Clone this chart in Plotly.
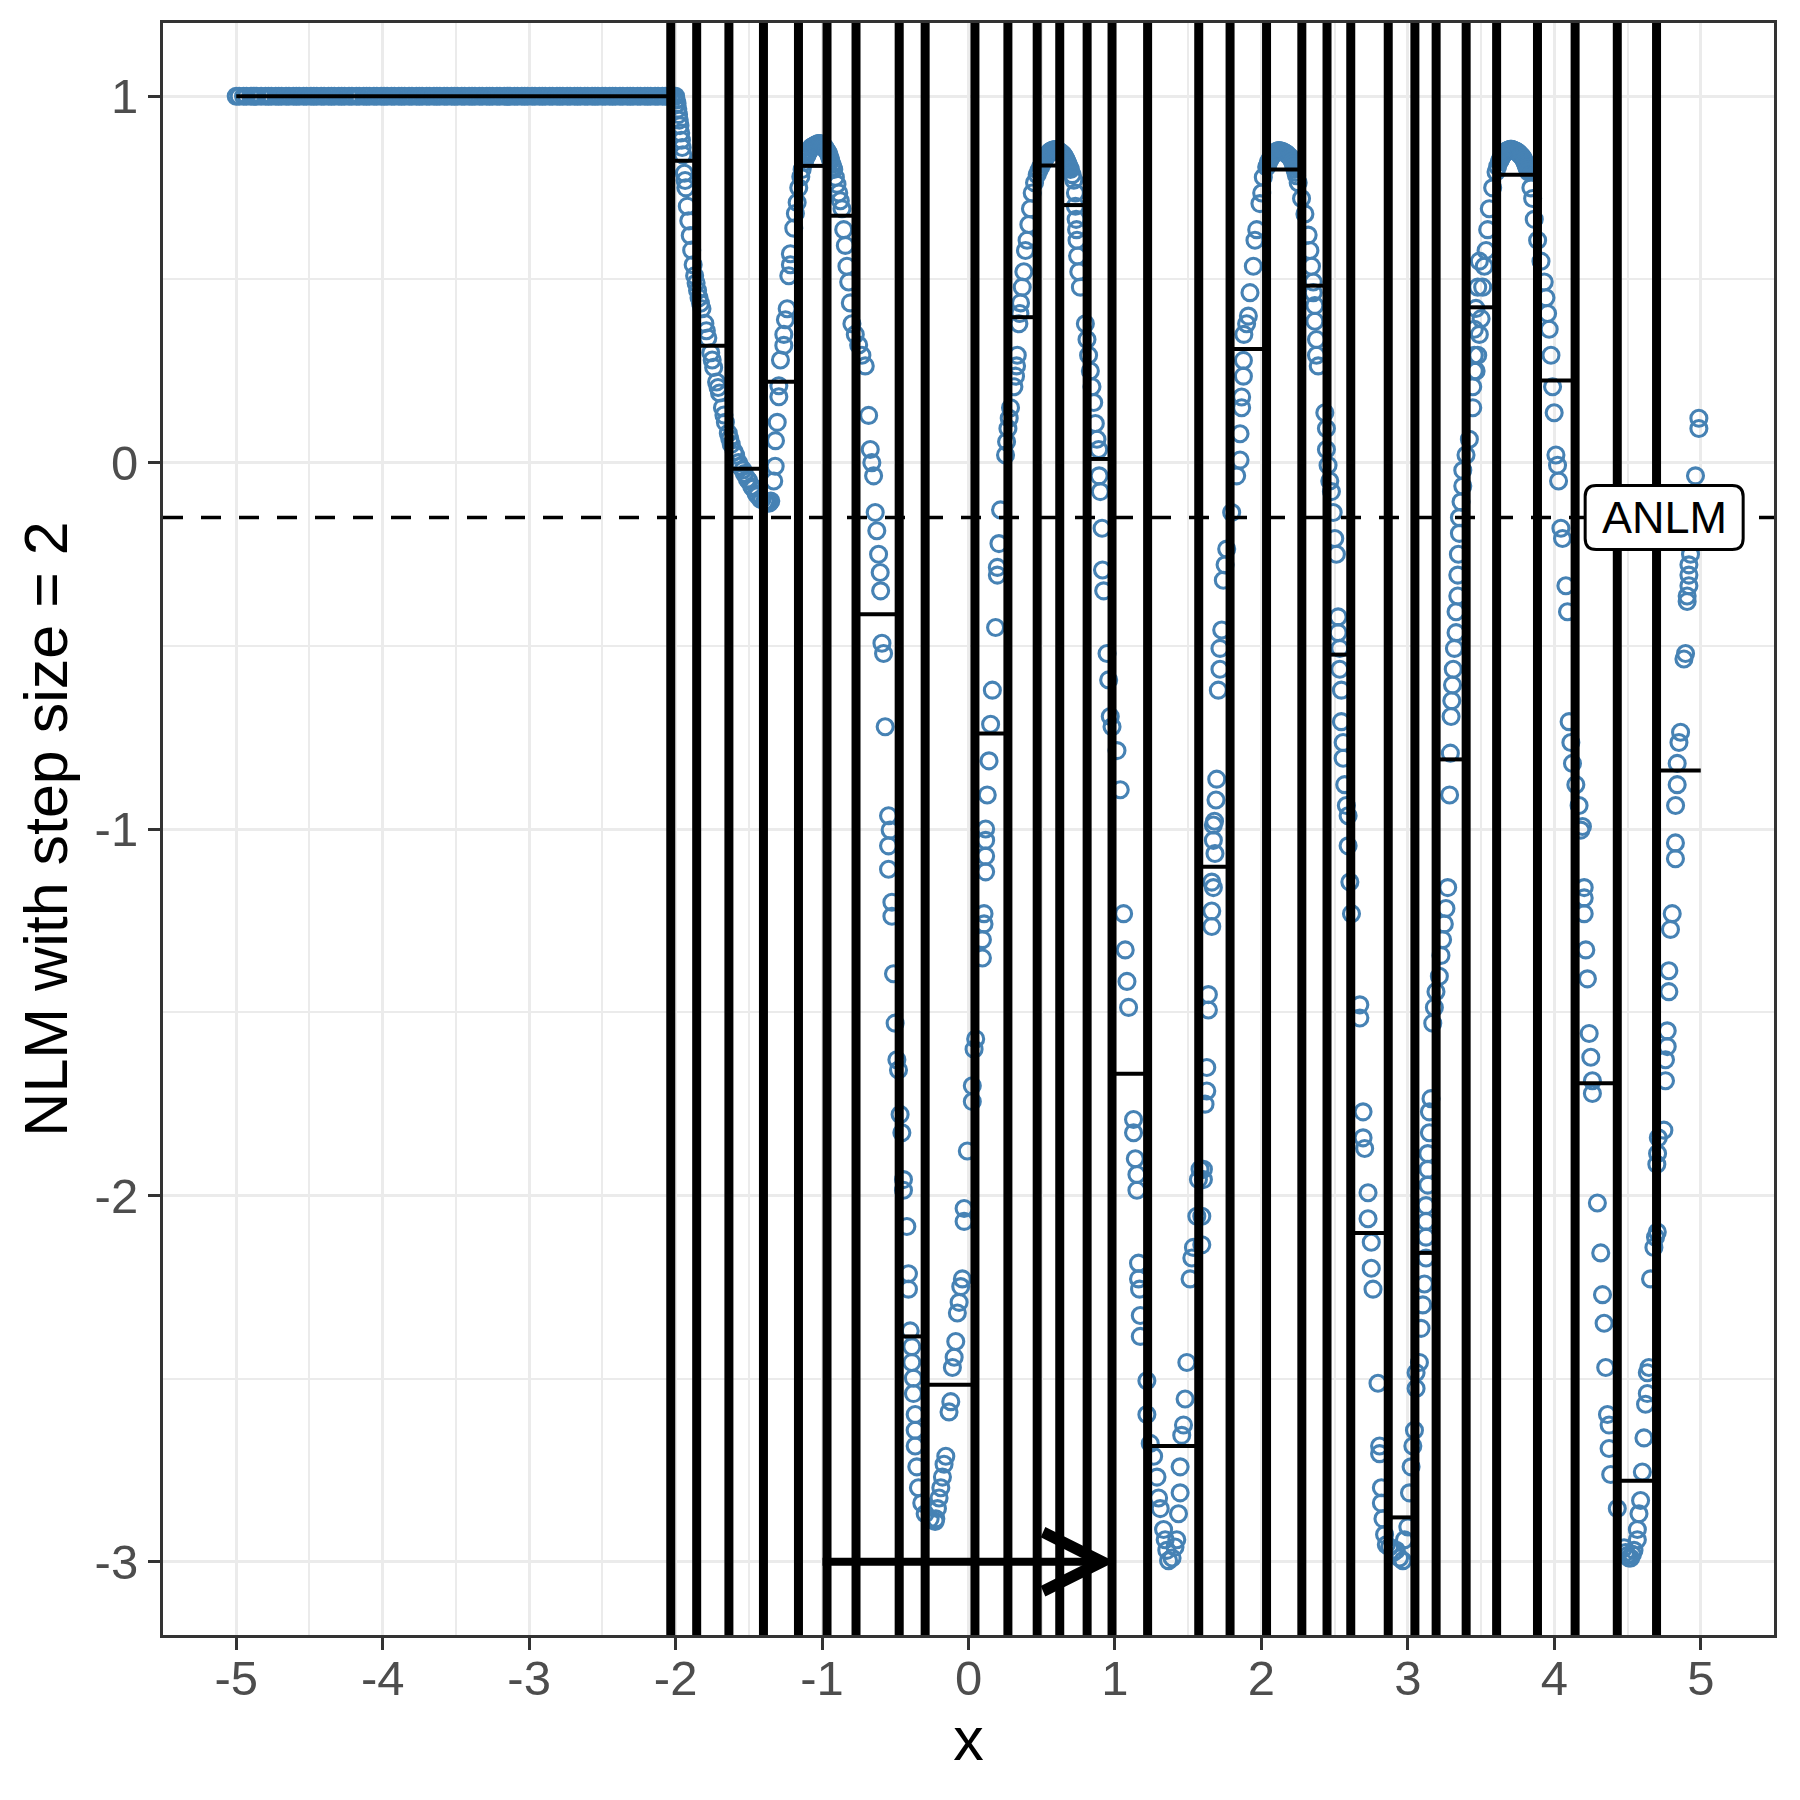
import plotly.graph_objects as go

# flat part of the curve (y = 1 for every sample left of the first break)
flat_x = [-5.00, -4.98, -4.95, -4.93, -4.90, -4.88, -4.86, -4.83, -4.80, -4.78, -4.76, -4.73,
          -4.71, -4.69, -4.66, -4.64, -4.61, -4.59, -4.57, -4.54, -4.52, -4.49, -4.47, -4.45,
          -4.42, -4.40, -4.37, -4.35, -4.33, -4.30, -4.28, -4.26, -4.23, -4.21, -4.18, -4.16,
          -4.13, -4.11, -4.09, -4.06, -4.04, -4.01, -3.99, -3.97, -3.94, -3.92, -3.89, -3.87,
          -3.85, -3.82, -3.80, -3.77, -3.75, -3.73, -3.70, -3.68, -3.65, -3.63, -3.61, -3.58,
          -3.56, -3.53, -3.51, -3.49, -3.46, -3.44, -3.41, -3.39, -3.37, -3.34, -3.32, -3.29,
          -3.27, -3.25, -3.22, -3.20, -3.17, -3.15, -3.13, -3.10, -3.08, -3.05, -3.03, -3.01,
          -2.98, -2.96, -2.93, -2.91, -2.89, -2.86, -2.84, -2.81, -2.79, -2.77, -2.74, -2.72,
          -2.69, -2.67, -2.65, -2.62, -2.60, -2.57, -2.55, -2.53, -2.50, -2.48, -2.45, -2.43,
          -2.41, -2.38, -2.36, -2.33, -2.31, -2.29, -2.26, -2.24, -2.21, -2.19, -2.17, -2.14,
          -2.12, -2.09, -2.07, -2.05, -2.03, -2.01]
flat_y = [1.0] * len(flat_x)

# oscillating part (x, y)
curve_pts = [
    (-2.00, 1.00), (-1.995, 0.99), (-1.99, 0.98), (-1.985, 0.965), (-1.98, 0.95), (-1.975, 0.935),
    (-1.97, 0.92), (-1.965, 0.90), (-1.96, 0.88), (-1.955, 0.86), (-1.95, 0.84), (-1.94, 0.79),
    (-1.935, 0.77), (-1.93, 0.75), (-1.92, 0.70), (-1.91, 0.66), (-1.90, 0.62), (-1.89, 0.58),
    (-1.88, 0.54), (-1.87, 0.51), (-1.86, 0.49), (-1.85, 0.47), (-1.84, 0.45), (-1.83, 0.435),
    (-1.82, 0.42), (-1.80, 0.38), (-1.79, 0.36), (-1.78, 0.34), (-1.76, 0.30), (-1.75, 0.28),
    (-1.74, 0.26), (-1.72, 0.22), (-1.71, 0.205), (-1.70, 0.19), (-1.68, 0.15), (-1.67, 0.13),
    (-1.66, 0.11), (-1.64, 0.08), (-1.63, 0.065), (-1.62, 0.05), (-1.60, 0.03), (-1.59, 0.02),
    (-1.57, 0.0), (-1.56, -0.01), (-1.54, -0.02), (-1.53, -0.03), (-1.51, -0.045), (-1.50, -0.05),
    (-1.48, -0.065), (-1.47, -0.07), (-1.45, -0.085), (-1.44, -0.09), (-1.42, -0.10), (-1.41, -0.10),
    (-1.39, -0.105), (-1.38, -0.11), (-1.37, -0.11), (-1.36, -0.11), (-1.35, -0.105),
    (-1.33, -0.05), (-1.32, -0.01), (-1.318, 0.06), (-1.306, 0.11), (-1.295, 0.18), (-1.295, 0.21),
    (-1.284, 0.28), (-1.261, 0.32), (-1.261, 0.35), (-1.25, 0.39), (-1.238, 0.42), (-1.227, 0.51),
    (-1.216, 0.54), (-1.216, 0.57), (-1.193, 0.64), (-1.182, 0.68), (-1.17, 0.71), (-1.159, 0.75),
    (-1.145, 0.78), (-1.136, 0.80), (-1.12, 0.82), (-1.115, 0.83), (-1.108, 0.835), (-1.102, 0.84),
    (-1.095, 0.847), (-1.09, 0.85), (-1.085, 0.853), (-1.075, 0.86), (-1.068, 0.862), (-1.057, 0.864),
    (-1.05, 0.866), (-1.045, 0.867), (-1.04, 0.868), (-1.03, 0.87), (-1.023, 0.871), (-1.018, 0.871),
    (-1.01, 0.87), (-1.003, 0.869), (-0.995, 0.866), (-0.989, 0.864), (-0.98, 0.86), (-0.975, 0.855),
    (-0.97, 0.853), (-0.965, 0.85), (-0.96, 0.846), (-0.955, 0.843), (-0.95, 0.837), (-0.945, 0.83),
    (-0.94, 0.824), (-0.932, 0.814), (-0.926, 0.807), (-0.92, 0.80),
    (-0.909, 0.779), (-0.898, 0.76), (-0.886, 0.736), (-0.875, 0.715), (-0.864, 0.693), (-0.852, 0.636),
    (-0.841, 0.593), (-0.83, 0.536), (-0.818, 0.493), (-0.807, 0.436), (-0.796, 0.379), (-0.773, 0.35),
    (-0.75, 0.321), (-0.728, 0.293), (-0.705, 0.264), (-0.682, 0.129), (-0.671, 0.036), (-0.66, 0.0),
    (-0.648, -0.036), (-0.637, -0.136), (-0.626, -0.186), (-0.614, -0.25), (-0.603, -0.30), (-0.60, -0.35),
    (-0.591, -0.493), (-0.58, -0.521), (-0.569, -0.721), (-0.546, -0.964),
    (-0.535, -1.003), (-0.546, -1.046), (-0.546, -1.11), (-0.523, -1.20), (-0.523, -1.238), (-0.512, -1.395),
    (-0.501, -1.53), (-0.489, -1.63), (-0.478, -1.658), (-0.467, -1.779), (-0.455, -1.829), (-0.444, -1.957),
    (-0.444, -1.986), (-0.421, -2.085), (-0.41, -2.214), (-0.41, -2.256), (-0.398, -2.37), (-0.387, -2.413),
    (-0.387, -2.456), (-0.376, -2.499), (-0.376, -2.541), (-0.364, -2.598), (-0.364, -2.641), (-0.364, -2.684),
    (-0.353, -2.741), (-0.342, -2.798), (-0.319, -2.84), (-0.296, -2.869), (-0.262, -2.883), (-0.228, -2.89),
    (-0.223, -2.883), (-0.212, -2.855), (-0.201, -2.826), (-0.189, -2.798), (-0.178, -2.769), (-0.167, -2.734),
    (-0.155, -2.712), (-0.133, -2.591), (-0.121, -2.563), (-0.11, -2.47), (-0.098, -2.442), (-0.087, -2.399),
    (-0.076, -2.321), (-0.064, -2.292), (-0.053, -2.249), (-0.042, -2.228), (-0.03, -2.071), (-0.03, -2.036),
    (-0.008, -1.879), (0.026, -1.744), (0.026, -1.701), (0.038, -1.601), (0.049, -1.573), (0.095, -1.352),
    (0.095, -1.302), (0.106, -1.259), (0.106, -1.231), (0.117, -1.117), (0.117, -1.074), (0.117, -1.031),
    (0.117, -1.0), (0.128, -0.907), (0.14, -0.814), (0.151, -0.714), (0.163, -0.621), (0.185, -0.45),
    (0.197, -0.307), (0.197, -0.286), (0.208, -0.221), (0.219, -0.129), (0.253, 0.021), (0.26, 0.057),
    (0.269, 0.093), (0.278, 0.121), (0.287, 0.15), (0.31, 0.207), (0.321, 0.236), (0.328, 0.264),
    (0.333, 0.293), (0.344, 0.379), (0.351, 0.407), (0.355, 0.436), (0.367, 0.479), (0.378, 0.521),
    (0.389, 0.579), (0.40, 0.607), (0.412, 0.65), (0.423, 0.693), (0.435, 0.736), (0.451, 0.764),
    (0.469, 0.786), (0.48, 0.797), (0.492, 0.807), (0.503, 0.816), (0.509, 0.82), (0.514, 0.824),
    (0.52, 0.828), (0.525, 0.832), (0.531, 0.836), (0.537, 0.839), (0.543, 0.842), (0.548, 0.845),
    (0.554, 0.848), (0.56, 0.85), (0.565, 0.851), (0.571, 0.852), (0.577, 0.853), (0.582, 0.854),
    (0.588, 0.854), (0.594, 0.854), (0.60, 0.854), (0.605, 0.853), (0.61, 0.852), (0.616, 0.85),
    (0.622, 0.849), (0.628, 0.847), (0.634, 0.845), (0.64, 0.843), (0.645, 0.841), (0.65, 0.839),
    (0.656, 0.835), (0.662, 0.83), (0.668, 0.826), (0.673, 0.821), (0.679, 0.816), (0.685, 0.81),
    (0.69, 0.805), (0.696, 0.80), (0.708, 0.786), (0.719, 0.771), (0.73, 0.736),
    (0.73, 0.70), (0.735, 0.664), (0.738, 0.636), (0.741, 0.607), (0.745, 0.564), (0.753, 0.521),
    (0.764, 0.479), (0.798, 0.379), (0.809, 0.336), (0.82, 0.293), (0.832, 0.25), (0.843, 0.207),
    (0.855, 0.164), (0.866, 0.107), (0.877, 0.064), (0.889, 0.036), (0.892, -0.036), (0.90, -0.079),
    (0.912, -0.179), (0.915, -0.293), (0.923, -0.35), (0.946, -0.521), (0.957, -0.593), (0.968, -0.693),
    (0.98, -0.721), (1.014, -0.786), (1.036, -0.893),
    (1.059, -1.231), (1.07, -1.33), (1.082, -1.416), (1.093, -1.487), (1.127, -1.793), (1.127, -1.829),
    (1.139, -1.90), (1.15, -1.943), (1.15, -1.986), (1.161, -2.185), (1.161, -2.228), (1.168, -2.256),
    (1.173, -2.328), (1.173, -2.385), (1.218, -2.506), (1.218, -2.598), (1.241, -2.677), (1.264, -2.712),
    (1.287, -2.769), (1.298, -2.826), (1.309, -2.855), (1.332, -2.912), (1.343, -2.94), (1.354, -2.969),
    (1.366, -2.997), (1.39, -2.99), (1.41, -2.96), (1.422, -2.94), (1.434, -2.869), (1.445, -2.812),
    (1.445, -2.741), (1.456, -2.655), (1.468, -2.627), (1.479, -2.556), (1.491, -2.456), (1.513, -2.228),
    (1.525, -2.171), (1.536, -2.142), (1.559, -2.057), (1.57, -1.957), (1.581, -1.929),
    (1.593, -2.135), (1.593, -2.057), (1.604, -1.957), (1.604, -1.929), (1.615, -1.751), (1.627, -1.715),
    (1.627, -1.651), (1.638, -1.494), (1.638, -1.452), (1.661, -1.266), (1.661, -1.224), (1.661, -1.145),
    (1.672, -1.16), (1.672, -1.031), (1.672, -0.989), (1.683, -1.067),
    (1.68, -0.979), (1.69, -0.921), (1.695, -0.864), (1.706, -0.621), (1.717, -0.564), (1.717, -0.507),
    (1.729, -0.457), (1.74, -0.321), (1.752, -0.279), (1.763, -0.236), (1.797, -0.136), (1.831, -0.036),
    (1.854, 0.007), (1.854, 0.079), (1.865, 0.15), (1.865, 0.179), (1.877, 0.236), (1.877, 0.279),
    (1.88, 0.35), (1.899, 0.379), (1.911, 0.40), (1.922, 0.464), (1.945, 0.536), (1.956, 0.607),
    (1.968, 0.636), (1.99, 0.707), (2.002, 0.736), (2.013, 0.779), (2.036, 0.807), (2.045, 0.815),
    (2.05, 0.822), (2.06, 0.829), (2.07, 0.836), (2.078, 0.84), (2.087, 0.844), (2.095, 0.847),
    (2.104, 0.85), (2.112, 0.851), (2.12, 0.852), (2.13, 0.851), (2.138, 0.85), (2.146, 0.849),
    (2.155, 0.847), (2.164, 0.845), (2.172, 0.843), (2.18, 0.84), (2.19, 0.836), (2.198, 0.833),
    (2.206, 0.829), (2.212, 0.822), (2.218, 0.815), (2.224, 0.808), (2.229, 0.80), (2.235, 0.792),
    (2.24, 0.783),
    (2.251, 0.764), (2.274, 0.721), (2.297, 0.679), (2.319, 0.621), (2.331, 0.579), (2.342, 0.536),
    (2.354, 0.493), (2.354, 0.464), (2.365, 0.429), (2.365, 0.386), (2.376, 0.336), (2.376, 0.293),
    (2.388, 0.264), (2.433, 0.136), (2.444, 0.093), (2.444, 0.036), (2.455, -0.007), (2.467, -0.05),
    (2.478, -0.079), (2.49, -0.136), (2.501, -0.207), (2.512, -0.25), (2.524, -0.421), (2.524, -0.464),
    (2.535, -0.507), (2.535, -0.564), (2.546, -0.621), (2.546, -0.707), (2.558, -0.764), (2.558, -0.807),
    (2.569, -0.879), (2.58, -0.936), (2.592, -0.964),
    (2.592, -1.046), (2.604, -1.145), (2.615, -1.231), (2.672, -1.48), (2.672, -1.516), (2.694, -1.772),
    (2.694, -1.843), (2.705, -1.872), (2.728, -1.993), (2.728, -2.064), (2.75, -2.128), (2.75, -2.199),
    (2.762, -2.256), (2.796, -2.513), (2.807, -2.684), (2.807, -2.705), (2.819, -2.798), (2.819, -2.84),
    (2.83, -2.883), (2.841, -2.926), (2.853, -2.954), (2.875, -2.96), (2.9, -2.975), (2.921, -2.969),
    (2.943, -2.99), (2.966, -2.997), (2.977, -2.94), (3.0, -2.905), (3.011, -2.812), (3.022, -2.741),
    (3.034, -2.684), (3.045, -2.641), (3.056, -2.527), (3.056, -2.484), (3.079, -2.456), (3.09, -2.363),
    (3.102, -2.299), (3.113, -2.242), (3.124, -2.171), (3.124, -2.114), (3.124, -2.071), (3.124, -2.028),
    (3.136, -1.972), (3.136, -1.929), (3.136, -1.886), (3.147, -1.829), (3.147, -1.772), (3.158, -1.736),
    (3.17, -1.53), (3.181, -1.487), (3.192, -1.444), (3.215, -1.402), (3.226, -1.345), (3.237, -1.302),
    (3.249, -1.259), (3.26, -1.217), (3.272, -1.16),
    (3.285, -0.907), (3.29, -0.793), (3.295, -0.693), (3.30, -0.65), (3.305, -0.607), (3.31, -0.564),
    (3.318, -0.507), (3.329, -0.464), (3.329, -0.407), (3.341, -0.364), (3.341, -0.307), (3.345, -0.25),
    (3.352, -0.193), (3.352, -0.15), (3.363, -0.107), (3.375, -0.064), (3.375, -0.021), (3.397, 0.021),
    (3.42, 0.064), (3.443, 0.15), (3.443, 0.207), (3.454, 0.25), (3.454, 0.293), (3.454, 0.364),
    (3.466, 0.25), (3.465, 0.421), (3.477, 0.293), (3.477, 0.479), (3.488, 0.35), (3.488, 0.55),
    (3.5, 0.393), (3.511, 0.479), (3.522, 0.536), (3.534, 0.579), (3.545, 0.636), (3.556, 0.693),
    (3.579, 0.75), (3.602, 0.793), (3.613, 0.808), (3.625, 0.821), (3.63, 0.826), (3.636, 0.83),
    (3.642, 0.836), (3.647, 0.839), (3.653, 0.842), (3.658, 0.845), (3.664, 0.848), (3.67, 0.85),
    (3.676, 0.851), (3.681, 0.852), (3.687, 0.853), (3.693, 0.854), (3.698, 0.855), (3.704, 0.855),
    (3.71, 0.855), (3.715, 0.854), (3.721, 0.853), (3.727, 0.852), (3.733, 0.851), (3.738, 0.85),
    (3.744, 0.849), (3.75, 0.847), (3.755, 0.845), (3.761, 0.843), (3.767, 0.84), (3.772, 0.838),
    (3.778, 0.836), (3.784, 0.833), (3.79, 0.829), (3.795, 0.824), (3.80, 0.819), (3.806, 0.814),
    (3.81, 0.809), (3.815, 0.804), (3.82, 0.799), (3.824, 0.793),
    (3.84, 0.75), (3.852, 0.721), (3.863, 0.664),
    (3.886, 0.607), (3.909, 0.55), (3.931, 0.493), (3.943, 0.45), (3.954, 0.407), (3.965, 0.364),
    (3.977, 0.293), (3.988, 0.207), (3.999, 0.136), (4.011, 0.021), (4.022, -0.007), (4.029, -0.05),
    (4.045, -0.179), (4.056, -0.207), (4.079, -0.336), (4.09, -0.407), (4.101, -0.707), (4.113, -0.764),
    (4.124, -0.821), (4.147, -0.879), (4.169, -0.936), (4.181, -1.003), (4.192, -0.993),
    (4.204, -1.16), (4.204, -1.188), (4.204, -1.231), (4.215, -1.33), (4.226, -1.409), (4.238, -1.558),
    (4.249, -1.623), (4.26, -1.687), (4.26, -1.722), (4.294, -2.021), (4.317, -2.157), (4.329, -2.271),
    (4.34, -2.349), (4.351, -2.47), (4.363, -2.598), (4.374, -2.627), (4.374, -2.691), (4.385, -2.762),
    (4.43, -2.855), (4.476, -2.962), (4.487, -2.975), (4.498, -2.983), (4.51, -2.99), (4.521, -2.99),
    (4.533, -2.98), (4.544, -2.969), (4.567, -2.94), (4.567, -2.912), (4.578, -2.869), (4.589, -2.833),
    (4.601, -2.755), (4.612, -2.662), (4.623, -2.57), (4.635, -2.541), (4.635, -2.484), (4.646, -2.47),
    (4.657, -2.228), (4.68, -2.142), (4.691, -2.114), (4.703, -2.10), (4.70, -1.915), (4.705, -1.886),
    (4.71, -1.843), (4.748, -1.822), (4.759, -1.687), (4.759, -1.63), (4.771, -1.594), (4.771, -1.551),
    (4.782, -1.444), (4.782, -1.387), (4.793, -1.274), (4.805, -1.231), (4.827, -1.081), (4.827, -1.038),
    (4.828, -0.936), (4.839, -0.879), (4.839, -0.821), (4.851, -0.764), (4.862, -0.736), (4.885, -0.536),
    (4.896, -0.521), (4.907, -0.379), (4.907, -0.364), (4.919, -0.336), (4.919, -0.307), (4.919, -0.279),
    (4.93, -0.25), (4.964, -0.036), (4.987, 0.093), (4.987, 0.121),
]
curve_x = [p[0] for p in curve_pts]
curve_y = [p[1] for p in curve_pts]

# split points of the step fit and the mean level inside each piece
bin_edges = [-5.0, -2.033, -1.856, -1.636, -1.400, -1.161, -0.966, -0.768, -0.473, -0.296,
             0.044, 0.269, 0.469, 0.623, 0.810, 0.980, 1.223, 1.572, 1.786, 2.035, 2.276,
             2.448, 2.610, 2.866, 3.048, 3.193, 3.398, 3.606, 3.885, 4.142, 4.430, 4.698, 5.0]
bin_means = [1.0, 0.824, 0.319, -0.017, 0.221, 0.81, 0.674, -0.414, -2.385, -2.517,
             -0.739, 0.397, 0.811, 0.703, 0.010, -1.668, -2.684, -1.103, 0.31, 0.80,
             0.483, -0.524, -2.103, -2.879, -2.157, -0.81, 0.424, 0.786, 0.224, -1.694,
             -2.779, -0.84]

anlm_level = -0.15
anlm_label = "ANLM"
anlm_x = 4.75
arrow_from = (-1.0, -3.0)
arrow_to = (1.0, -3.0)

x_ticks = [-5, -4, -3, -2, -1, 0, 1, 2, 3, 4, 5]
y_ticks = [-3, -2, -1, 0, 1]

FONT = "Liberation Sans"
STEEL = "#4682B4"

fig = go.Figure()

fig.add_trace(go.Scatter(
    x=flat_x + curve_x, y=flat_y + curve_y, mode="markers",
    marker=dict(symbol="circle-open", size=16, color=STEEL, line=dict(width=3.1, color=STEEL)),
    showlegend=False, hoverinfo="skip"))

# horizontal step segments
seg_x, seg_y = [], []
for i, m in enumerate(bin_means):
    seg_x += [bin_edges[i], bin_edges[i + 1], None]
    seg_y += [m, m, None]
fig.add_trace(go.Scatter(x=seg_x, y=seg_y, mode="lines",
                         line=dict(color="black", width=4), showlegend=False, hoverinfo="skip"))

# vertical split lines
for e in bin_edges[1:-1]:
    fig.add_vline(x=e, line_color="black", line_width=9, layer="above")

fig.add_hline(y=anlm_level, line_color="black", line_width=3.5, line_dash="20px,18px", layer="above")

# rounded label box (pixel sized, anchored on the label position)
w, h, r = 79, 32, 11
box = (f"M{-w + r},{-h} L{w - r},{-h} Q{w},{-h} {w},{-h + r} L{w},{h - r} Q{w},{h} {w - r},{h} "
       f"L{-w + r},{h} Q{-w},{h} {-w},{h - r} L{-w},{-h + r} Q{-w},{-h} {-w + r},{-h} Z")
fig.add_shape(type="path", path=box, xsizemode="pixel", ysizemode="pixel",
              xanchor=anlm_x, yanchor=anlm_level, xref="x", yref="y",
              fillcolor="white", line=dict(color="black", width=3), layer="above")
fig.add_annotation(x=anlm_x, y=anlm_level, text=anlm_label, showarrow=False,
                   font=dict(family=FONT, size=45, color="black"))

fig.add_annotation(x=arrow_to[0], y=arrow_to[1], ax=arrow_from[0], ay=arrow_from[1],
                   xref="x", yref="y", axref="x", ayref="y", text="", showarrow=True,
                   font=dict(size=1), borderpad=0,
                   arrowhead=5, arrowsize=1.45, arrowwidth=8, arrowcolor="black")

grid = "#EBEBEB"
fig.update_xaxes(range=[-5.5, 5.5], tickvals=x_ticks, ticktext=[str(t) for t in x_ticks],
                 showgrid=True, gridcolor=grid, gridwidth=3, zeroline=False,
                 minor=dict(dtick=0.5, tick0=0, showgrid=True, gridcolor=grid, gridwidth=1.6),
                 showline=True, mirror=True, linecolor="#333333", linewidth=3,
                 ticks="outside", ticklen=12, tickwidth=3, tickcolor="#333333",
                 ticklabelstandoff=-14,
                 tickfont=dict(family=FONT, size=49, color="#4D4D4D"),
                 title=dict(text="x", font=dict(family=FONT, size=61, color="black"), standoff=14))
fig.update_yaxes(range=[-3.2, 1.2], tickvals=y_ticks, ticktext=[str(t) for t in y_ticks],
                 showgrid=True, gridcolor=grid, gridwidth=3, zeroline=False,
                 minor=dict(dtick=0.5, tick0=0, showgrid=True, gridcolor=grid, gridwidth=1.6),
                 showline=True, mirror=True, linecolor="#333333", linewidth=3,
                 ticks="outside", ticklen=12, tickwidth=3, tickcolor="#333333",
                 tickfont=dict(family=FONT, size=49, color="#4D4D4D"),
                 title=dict(text="NLM with step size = 2", font=dict(family=FONT, size=61, color="black"),
                            standoff=8))

# page body adds an 8 px offset, so the margins are shifted to keep the panel in place
fig.update_layout(width=1800, height=1800, plot_bgcolor="white", paper_bgcolor="white",
                  margin=dict(l=155, r=34, t=15, b=173), showlegend=False,
                  font=dict(family=FONT))

fig.write_html("out.html")
